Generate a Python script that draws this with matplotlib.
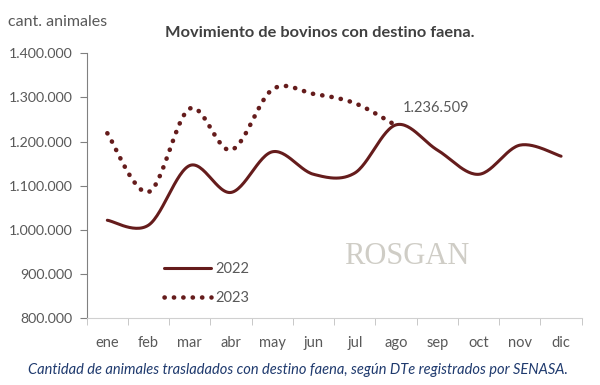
import numpy as np
import matplotlib.pyplot as plt
from matplotlib.ticker import FuncFormatter, FixedLocator

# data
meses = ["ene", "feb", "mar", "abr", "may", "jun", "jul", "ago", "sep", "oct", "nov", "dic"]
v2022 = [1022000, 1011000, 1146000, 1085000, 1177000, 1126000, 1129000, 1238000,
         1181000, 1126000, 1192000, 1167000]
v2023 = [1219000, 1086000, 1275000, 1181000, 1318000, 1308000, 1287000, 1236509]
etiqueta = "1.236.509"

color_linea = "#651c1c"
gris = "#595959"


def suavizar(y, n=30, t=0.5):
    # Catmull-Rom style curve through the points, like Excel's smoothed line
    y = np.asarray(y, dtype=float)
    x = np.arange(len(y), dtype=float)
    p = np.column_stack([x, y])
    p = np.vstack([p[0], p, p[-1]])
    xs, ys = [], []
    for i in range(1, len(p) - 2):
        p0, p1, p2, p3 = p[i - 1], p[i], p[i + 1], p[i + 2]
        c1 = p1 + (p2 - p0) * t / 3
        c2 = p2 - (p3 - p1) * t / 3
        s = np.linspace(0, 1, n)[:, None]
        b = ((1 - s) ** 3) * p1 + 3 * ((1 - s) ** 2) * s * c1 + 3 * (1 - s) * s ** 2 * c2 + s ** 3 * p2
        xs.extend(b[:, 0])
        ys.extend(b[:, 1])
    return np.array(xs), np.array(ys)


plt.rcParams['font.family'] = ['Lato', 'DejaVu Sans']

fig = plt.figure(figsize=(6, 3.85), dpi=100)
ax = fig.add_axes([0.1445, 0.1732, 0.825, 0.6884])

x1, y1 = suavizar(v2022)
x2, y2 = suavizar(v2023)
ax.plot(x1, y1, color=color_linea, lw=2.2, label="2022", solid_capstyle="round")
ax.plot(x2, y2, color=color_linea, lw=3.3, linestyle=(0, (0.05, 2.0)),
        dash_capstyle="round", label="2023")

ax.annotate(etiqueta, xy=(len(v2023) - 1, v2023[-1]), xytext=(5, 10),
            textcoords="offset points", fontsize=10.5, color=gris)

ax.set_xlim(-0.5, 11.5)
ax.set_ylim(800000, 1400000)
ax.set_yticks(np.arange(800000, 1400001, 100000))
ax.yaxis.set_major_formatter(FuncFormatter(lambda v, p: f"{int(v):,}".replace(",", ".")))

ax.set_xticks(range(len(meses)))
ax.set_xticklabels(meses)
ax.xaxis.set_minor_locator(FixedLocator(np.arange(-0.5, 12, 1)))
ax.tick_params(axis="x", which="major", length=0, pad=13, labelsize=10.5, colors=gris)
ax.tick_params(axis="x", which="minor", length=5, color="#bfbfbf", direction="out")
ax.tick_params(axis="y", length=5, color="#808080", labelsize=10.2, colors=gris, pad=5)

for s in ["top", "right"]:
    ax.spines[s].set_visible(False)
ax.spines["left"].set_color("#808080")
ax.spines["bottom"].set_color("#d0d0d0")

leg = ax.legend(loc="lower left", bbox_to_anchor=(0.13, 0.0), frameon=False,
                fontsize=10.5, handlelength=3.2, labelspacing=1.05, handletextpad=0.3)
for t in leg.get_texts():
    t.set_color(gris)

# watermark
fig.text(0.573, 0.335, "ROSGAN", family=["Liberation Serif", "DejaVu Serif"],
         fontsize=22, color="#cfcdc6", ha="left", va="center")

fig.text(0.013, 0.942, "cant. animales", fontsize=11.5, color=gris, ha="left", va="center")
fig.text(0.533, 0.915, "Movimiento de bovinos con destino faena.", fontsize=11.8,
         fontweight="bold", color="#404040", ha="center", va="center")
fig.text(0.497, 0.038, "Cantidad de animales trasladados con destino faena, según DTe registrados por SENASA.",
         fontsize=10.5, style="italic", color="#1f3a6e", ha="center", va="center")

fig.savefig("out.png", dpi=100)
